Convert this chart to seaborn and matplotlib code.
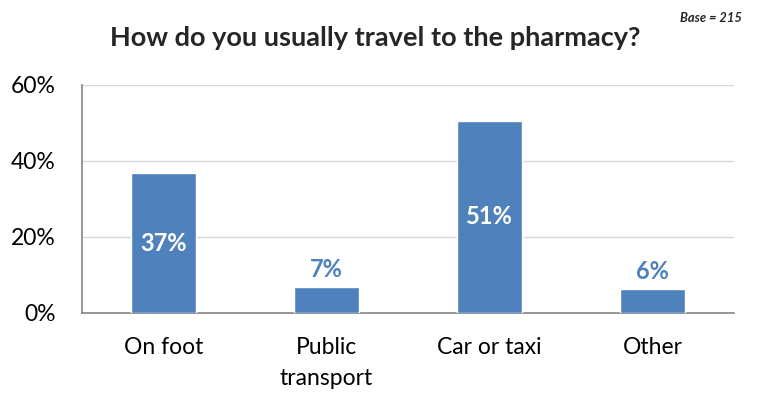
import matplotlib
matplotlib.use("Agg")
import matplotlib.pyplot as plt
import seaborn as sns
import pandas as pd
from matplotlib.ticker import FixedLocator, PercentFormatter

sns.set_theme(style="white")
plt.rcParams["font.family"] = ["Lato", "DejaVu Sans"]

# Survey answers and their shares (%)
categories = ["On foot", "Public\ntransport", "Car or taxi", "Other"]
shares = [36.8, 6.8, 50.6, 6.3]
label_inside = [True, False, True, False]
y_ticks = [0, 20, 40, 60]

BLUE = "#4F81BD"
GRID = "#D9D9D9"
AXIS = "#868686"

df = pd.DataFrame({"mode": categories, "share": shares})

fig = plt.figure(figsize=(7.58, 3.94), dpi=100)
ax = fig.add_axes([0.1082, 0.2056, 0.8601, 0.5787])

sns.barplot(data=df, x="mode", y="share", color=BLUE, width=0.4,
            saturation=1, ax=ax, zorder=3)

ax.set_ylim(0, 60)
ax.set_xlim(-0.5, len(categories) - 0.5)
ax.yaxis.set_major_locator(FixedLocator(y_ticks))
ax.yaxis.set_major_formatter(PercentFormatter(decimals=0))
ax.grid(axis="y", color=GRID, linewidth=1, zorder=0)
ax.set_xlabel("")
ax.set_ylabel("")

for s in ["top", "right"]:
    ax.spines[s].set_visible(False)
for s in ["left", "bottom"]:
    ax.spines[s].set_color(AXIS)
    ax.spines[s].set_linewidth(1.2)

ax.tick_params(axis="y", which="major", length=6, width=1.2, color=AXIS,
               direction="out", pad=13, labelsize=16.5, labelcolor="black")
# category labels centred, boundary ticks between categories
ax.tick_params(axis="x", which="major", length=0, pad=17, labelsize=16.5,
               labelcolor="black")
ax.set_xticks([i + 0.5 for i in range(len(categories))], minor=True)
ax.tick_params(axis="x", which="minor", length=6, width=1.2, color=AXIS,
               direction="out")
for lbl in ax.get_xticklabels():
    lbl.set_linespacing(1.6)

for i, (v, inside) in enumerate(zip(shares, label_inside)):
    txt = f"{round(v):.0f}%"
    if inside:
        ax.text(i, v / 2, txt, ha="center", va="center", color="white",
                fontsize=17, fontweight="bold", zorder=4)
    else:
        ax.text(i, v + 4.7, txt, ha="center", va="center", color=BLUE,
                fontsize=17, fontweight="bold", zorder=4)

fig.text(0.495, 0.903, "How do you usually travel to the pharmacy?",
         ha="center", va="center", fontsize=19.5, fontweight="bold")
fig.text(0.979, 0.955, "Base = 215", ha="right", va="center",
         fontsize=9.3, fontweight="bold", fontstyle="italic")

fig.savefig("out.png", dpi=100)
